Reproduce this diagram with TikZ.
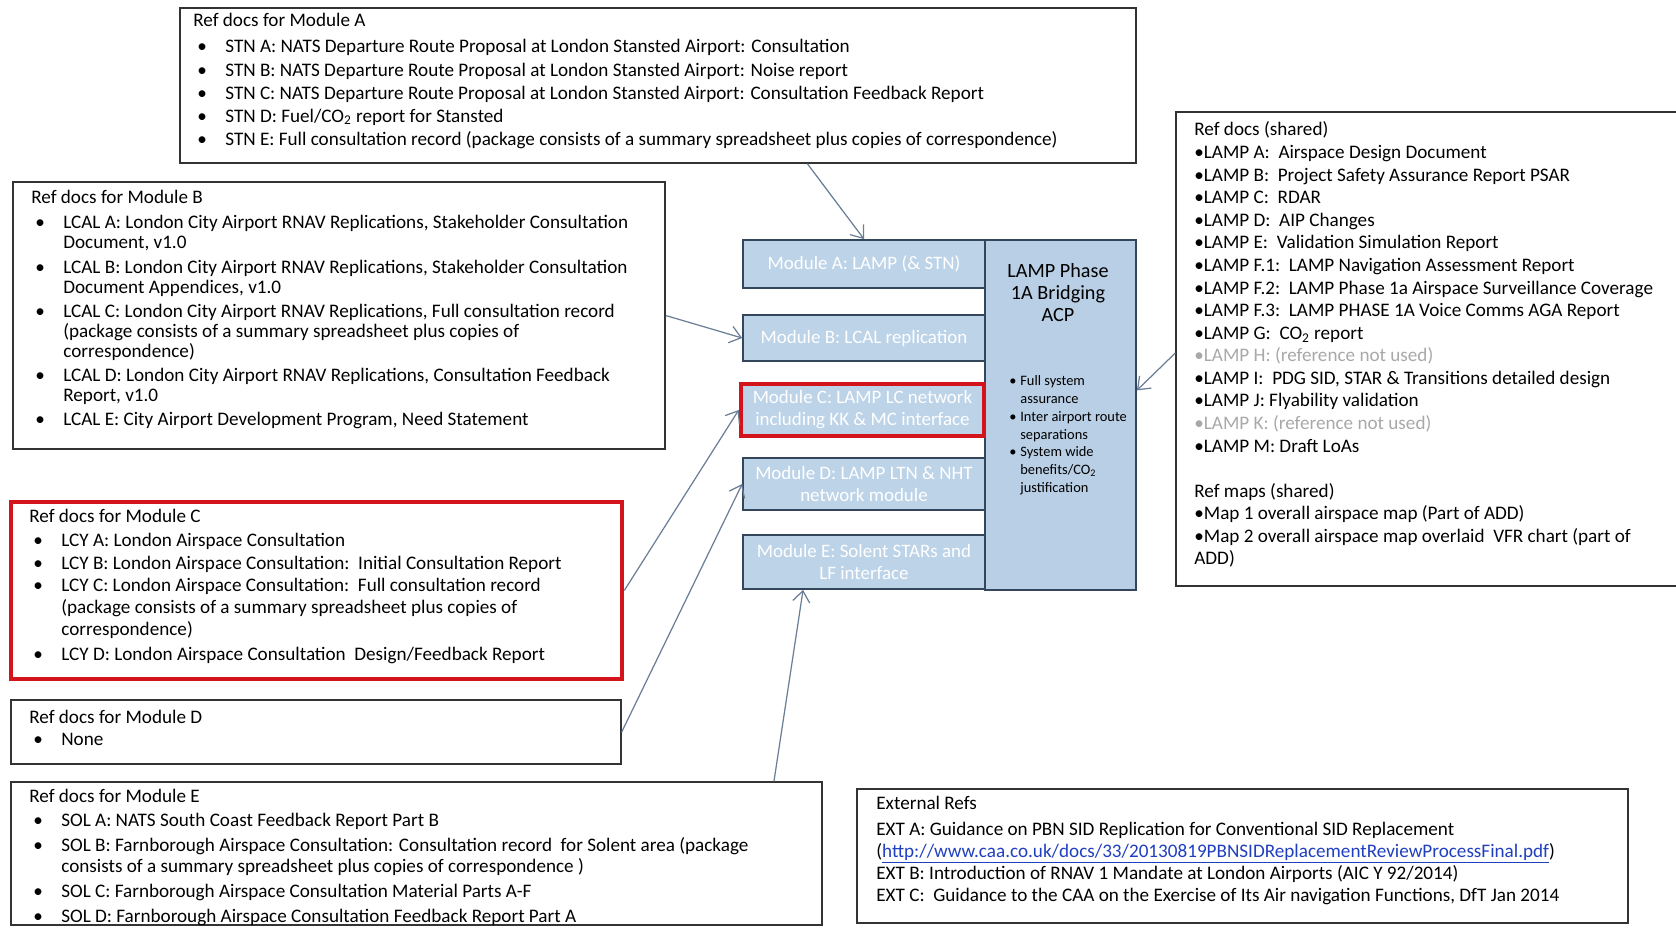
\documentclass[tikz,border=0pt]{standalone}
\usepackage{fontspec}
\setmainfont{Carlito}
\usetikzlibrary{arrows.meta, calc, fit, positioning}
\definecolor{modfill}{HTML}{BDD3E8}
\definecolor{acpfill}{HTML}{B9CFE5}
\definecolor{modline}{HTML}{34465C}
\definecolor{connblue}{HTML}{6A7E96}
\definecolor{alertred}{HTML}{D3141C}
\definecolor{unused}{HTML}{A8A8A8}
\definecolor{linkblue}{HTML}{1F3FBF}
\newcommand{\bul}{\makebox[0.64cm][l]{\hspace{0.08cm}\textbullet}}
\newcommand{\ind}{\makebox[0.64cm]{}}
\newcommand{\cotwo}{CO\textsubscript{2}}
% rows hang from the first baseline
\newcommand{\lines}[1]{\begin{tabular}[t]{@{}l@{}}#1\end{tabular}}
\newcommand{\clines}[1]{\begin{tabular}[t]{@{}c@{}}#1\end{tabular}}
\tikzset{
  refbox/.style={draw=black!80, line width=0.8pt, inner sep=0pt},
  alertbox/.style={draw=alertred, line width=2.6pt, inner sep=0pt},
  reftext/.style={anchor=base west, inner sep=0pt},
  modbox/.style={draw=modline, line width=1pt, fill=modfill, inner sep=0pt,
    minimum width=4.84cm, text=white, align=center,
    font=\fontsize{10.8}{12.5}\selectfont},
  conn/.style={draw=connblue, line width=0.7pt,
    -{Straight Barb[length=2.2mm, width=3.4mm]}}
}

\begin{document}
\begin{tikzpicture}[x=0.02cm, y=-0.02cm]
  \useasboundingbox (0,0) rectangle (1676,935);
  % reference boxes
  \node[refbox, fit={(180,8) (1136,163)}] (refA) {};
  \node[refbox, fit={(13,182) (665,449)}] (refB) {};
  \node[alertbox, fit={(11,502) (622,679)}] (refC) {};
  \node[refbox, fit={(11,700) (621,764)}] (refD) {};
  \node[refbox, fit={(11,782) (822,925)}] (refE) {};
  \node[refbox, fit={(857,789) (1628,923)}] (refX) {};
  \node[refbox, fit={(1176,112) (1700,586)}] (refS) {};

  % module A refs
  \node[reftext, font=\fontsize{10.9}{13.1}\selectfont] (txtA) at (193,27) {\lines{%
    Ref docs for Module A\\[1.7pt]
    \bul STN A: NATS Departure Route Proposal at London Stansted Airport: Consultation\\
    \bul STN B: NATS Departure Route Proposal at London Stansted Airport: Noise report\\
    \bul STN C: NATS Departure Route Proposal at London Stansted Airport: Consultation Feedback Report\\
    \bul STN D: Fuel/\cotwo\ report for Stansted\\
    \bul STN E: Full consultation record (package consists of a summary spreadsheet plus copies of correspondence)}};

  % module B refs
  \node[reftext, font=\fontsize{10.9}{11.4}\selectfont] (txtB) at (31,204) {\lines{%
    Ref docs for Module B\\[2.8pt]
    \bul LCAL A: London City Airport RNAV Replications, Stakeholder Consultation\\
    \ind Document, v1.0\\[2.3pt]
    \bul LCAL B: London City Airport RNAV Replications, Stakeholder Consultation\\
    \ind Document Appendices, v1.0\\[2.3pt]
    \bul LCAL C: London City Airport RNAV Replications, Full consultation record\\
    \ind (package consists of a summary spreadsheet plus copies of\\
    \ind correspondence)\\[2.3pt]
    \bul LCAL D: London City Airport RNAV Replications, Consultation Feedback\\
    \ind Report, v1.0\\[2.3pt]
    \bul LCAL E: City Airport Development Program, Need Statement}};

  % module C refs
  \node[reftext, font=\fontsize{10.9}{12.6}\selectfont] (txtC) at (29,522) {\lines{%
    Ref docs for Module C\\[1.6pt]
    \bul LCY A: London Airspace Consultation\\
    \bul LCY B: London Airspace Consultation:\ \ Initial Consultation Report\\
    \bul LCY C: London Airspace Consultation:\ \ Full consultation record\\
    \ind (package consists of a summary spreadsheet plus copies of\\
    \ind correspondence)\\[1.6pt]
    \bul LCY D: London Airspace Consultation\ \ Design/Feedback Report}};

  % module D refs
  \node[reftext, font=\fontsize{10.9}{13}\selectfont] (txtD) at (29,723) {\lines{%
    Ref docs for Module D\\
    \bul None}};

  % module E refs
  \node[reftext, font=\fontsize{10.9}{11.6}\selectfont] (txtE) at (29,802) {\lines{%
    Ref docs for Module E\\[2.6pt]
    \bul SOL A: NATS South Coast Feedback Report Part B\\[2.6pt]
    \bul SOL B: Farnborough Airspace Consultation: Consultation record\ \ for Solent area (package\\
    \ind consists of a summary spreadsheet plus copies of correspondence )\\[2.6pt]
    \bul SOL C: Farnborough Airspace Consultation Material Parts A-F\\[2.6pt]
    \bul SOL D: Farnborough Airspace Consultation Feedback Report Part A}};

  % external refs
  \node[reftext, font=\fontsize{10.9}{12.6}\selectfont] (txtX) at (876,809) {\lines{%
    External Refs\\[2.2pt]
    EXT A: Guidance on PBN SID Replication for Conventional SID Replacement\\
    (\textcolor{linkblue}{\underline{http://www.caa.co.uk/docs/33/20130819PBNSIDReplacementReviewProcessFinal.pdf}})\\
    EXT B: Introduction of RNAV 1 Mandate at London Airports (AIC Y 92/2014)\\
    EXT C:\ \ Guidance to the CAA on the Exercise of Its Air navigation Functions, DfT Jan 2014}};

  % shared refs
  \node[reftext, font=\fontsize{10.9}{12.85}\selectfont] (txtS) at (1194,136) {\lines{%
    Ref docs (shared)\\
    \textbullet LAMP A:\ \ Airspace Design Document\\
    \textbullet LAMP B:\ \ Project Safety Assurance Report PSAR\\
    \textbullet LAMP C:\ \ RDAR\\
    \textbullet LAMP D:\ \ AIP Changes\\
    \textbullet LAMP E:\ \ Validation Simulation Report\\
    \textbullet LAMP F.1:\ \ LAMP Navigation Assessment Report\\
    \textbullet LAMP F.2:\ \ LAMP Phase 1a Airspace Surveillance Coverage\\
    \textbullet LAMP F.3:\ \ LAMP PHASE 1A Voice Comms AGA Report\\
    \textbullet LAMP G:\ \ \cotwo\ report\\
    \textcolor{unused}{\textbullet LAMP H: (reference not used)}\\
    \textbullet LAMP I:\ \ PDG SID, STAR \& Transitions detailed design\\
    \textbullet LAMP J: Flyability validation\\
    \textcolor{unused}{\textbullet LAMP K: (reference not used)}\\
    \textbullet LAMP M: Draft LoAs\\[12.85pt]
    Ref maps (shared)\\
    \textbullet Map 1 overall airspace map (Part of ADD)\\
    \textbullet Map 2 overall airspace map overlaid\ \ VFR chart (part of\\
    ADD)}};

  % bridging ACP column
  \node[draw=modline, line width=1pt, fill=acpfill, inner sep=0pt,
    fit={(985,240) (1136,590)}] (acp) {};
  \node[inner sep=0pt, anchor=base, font=\fontsize{11.5}{12.5}\selectfont]
    (acptitle) at (1058,278) {\clines{LAMP Phase\\ 1A Bridging\\ ACP}};
  \node[reftext, font=\fontsize{8.2}{10.1}\selectfont] (acplist) at (1009,386) {\lines{%
    \makebox[0.22cm][l]{\textbullet}Full system\\
    \makebox[0.22cm]{}assurance\\
    \makebox[0.22cm][l]{\textbullet}Inter airport route\\
    \makebox[0.22cm]{}separations\\
    \makebox[0.22cm][l]{\textbullet}System wide\\
    \makebox[0.22cm]{}benefits/\cotwo\\
    \makebox[0.22cm]{}justification}};

  % modules
  \node[modbox, minimum height=0.96cm] (modA) at (864,264) {Module A: LAMP (\& STN)};
  \node[modbox, minimum height=0.92cm] (modB) at (864,338) {Module B: LCAL replication};
  \node[modbox, minimum height=1.04cm] (modD) at (864,484) {Module D: LAMP LTN \& NHT\\ network module};
  \node[modbox, minimum height=1.08cm] (modE) at (864,562) {Module E: Solent STARs and\\ LF interface};
  \node[modbox, draw=alertred, line width=2.6pt, minimum width=4.86cm,
    minimum height=1.04cm] (modC) at (862.5,410)
    {Module C: LAMP LC network\\ including KK \& MC interface};

  % connectors
  \draw[conn] ($(refA.south west)!0.656!(refA.south east)$) -- (modA.north);
  \draw[conn] (refB.east) -- (modB.west);
  \draw[conn] (refC.east) -- (modC.west);
  \draw[conn] (refD.east) -- (modD.west);
  \draw[conn] ($(refE.north west)!0.94!(refE.north east)$)
    -- ($(modE.south west)!0.25!(modE.south east)$);
  \draw[conn] (refS.west |- 0,353) -- ($(acp.north east)!0.43!(acp.south east)$);
\end{tikzpicture}
\end{document}
